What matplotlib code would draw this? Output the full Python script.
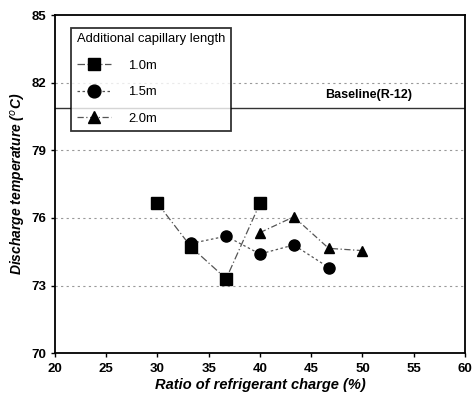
import numpy as np
import matplotlib
matplotlib.use("Agg")
import matplotlib.pyplot as plt

plt.rcParams['font.family'] = ['Liberation Sans', 'DejaVu Sans']

# data
x_10 = [30.0, 33.3, 36.7, 40.0]
y_10 = [76.65, 74.7, 73.3, 76.65]
x_15 = [33.3, 36.7, 40.0, 43.3, 46.7]
y_15 = [74.87, 75.19, 74.4, 74.8, 73.8]
x_20 = [40.0, 43.3, 46.7, 50.0]
y_20 = [75.35, 76.05, 74.65, 74.55]
baseline = 80.9
grid_levels = [82, 79, 76, 73]

xticks = [20, 25, 30, 35, 40, 45, 50, 55, 60]
yticks = [70, 73, 76, 79, 82, 85]

fig = plt.figure(figsize=(4.74, 3.99), dpi=100)
ax = fig.add_axes([0.116, 0.115, 0.865, 0.847])

for g in grid_levels:
    ax.axhline(g, color='#999999', lw=0.8, ls=(0, (2, 3)), zorder=1)
ax.axhline(baseline, color='#333333', lw=1.0, zorder=1)
ax.text(50.6, 81.45, 'Baseline(R-12)', fontsize=9, fontweight='bold',
        ha='center', va='center')

ax.plot(x_10, y_10, color='#555555', lw=0.9, ls=(0, (6, 2, 1, 2)),
        marker='s', ms=8, mfc='black', mec='black', label='1.0m', zorder=3)
ax.plot(x_15, y_15, color='#555555', lw=0.9, ls=(0, (2, 2)),
        marker='o', ms=8, mfc='black', mec='black', label='1.5m', zorder=3)
ax.plot(x_20, y_20, color='#555555', lw=0.9, ls=(0, (5, 2, 1, 2)),
        marker='^', ms=7, mfc='black', mec='black', label='2.0m', zorder=3)

ax.set_xlim(20, 60)
ax.set_ylim(70, 85)
ax.set_xticks(xticks)
ax.set_yticks(yticks)
ax.tick_params(direction='out', length=3, width=1, labelsize=9.5)
ax.tick_params(axis='x', pad=4)
for lab in ax.get_xticklabels() + ax.get_yticklabels():
    lab.set_fontweight('bold')
for s in ax.spines.values():
    s.set_linewidth(1.3)

ax.set_xlabel('Ratio of refrigerant charge (%)', fontsize=10.5,
              fontweight='bold', fontstyle='italic', labelpad=2)
ax.set_ylabel('Discharge temperature ($^o$C)', fontsize=10,
              fontweight='bold', fontstyle='italic', labelpad=2)

leg = ax.legend(title='Additional capillary length', loc='upper left',
                bbox_to_anchor=(0.03, 0.975), fontsize=9.4, title_fontsize=9.4,
                frameon=True, fancybox=False, edgecolor='black',
                handlelength=2.6, labelspacing=1.1, handletextpad=1.3,
                borderpad=0.45, borderaxespad=0.3, markerscale=1.15)
leg.get_frame().set_linewidth(1.3)
leg._legend_box.align = 'left'

fig.savefig('out.png', dpi=100)
